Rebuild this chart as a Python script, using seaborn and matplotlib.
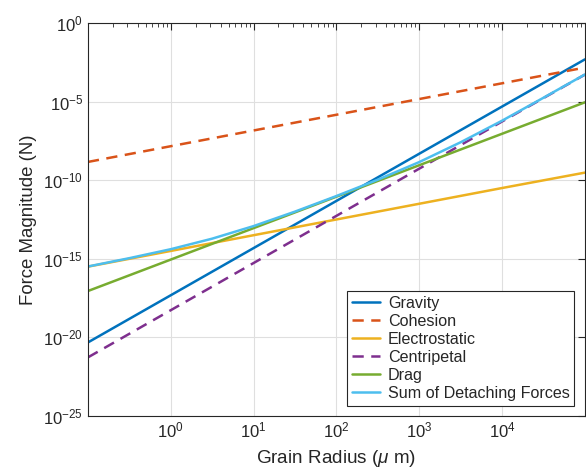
import numpy as np
import pandas as pd
import matplotlib
matplotlib.use("Agg")
import matplotlib.pyplot as plt
import seaborn as sns
from matplotlib.ticker import FixedLocator, LogLocator, NullFormatter

# ---- data (log10 values) ----
radius_exp = [-1, 0, 1, 2, 3, 4, 5]                 # grain radius, log10(um)
gravity_log = [-20.32, -17.32, -14.32, -11.32, -8.32, -5.32, -2.32]
cohesion_log = [-8.84, -7.84, -6.84, -5.84, -4.84, -3.84, -2.84]
electro_log = [-15.50, -14.50, -13.50, -12.50, -11.50, -10.50, -9.52]
centrip_log = [-21.27, -18.27, -15.27, -12.27, -9.27, -6.27, -3.29]
drag_log = [-17.05, -15.05, -13.05, -11.05, -9.05, -7.05, -5.05]

sum_radius_exp = [-1, -0.5, 0, 0.5, 1, 1.5, 2, 2.5, 3, 3.5, 4, 4.5, 5]
sum_log = [-15.49, -14.96, -14.39, -13.72, -12.92, -12.00, -11.01,
           -9.97, -8.85, -7.59, -6.22, -4.76, -3.28]

series_names = ["Gravity", "Cohesion", "Electrostatic", "Centripetal", "Drag",
                "Sum of Detaching Forces"]
colors = ["#0072BD", "#D95319", "#EDB120", "#7E2F8E", "#77AC30", "#4DBEEE"]
dashed = [False, True, False, True, False, False]

x_tick_exps = [0, 1, 2, 3, 4]
y_tick_exps = [0, -5, -10, -15, -20, -25]

sns.set_theme(style="white")
plt.rcParams['font.family'] = ['Liberation Sans', 'DejaVu Sans']
plt.rcParams['mathtext.fontset'] = 'custom'
plt.rcParams['mathtext.rm'] = 'Liberation Sans'
plt.rcParams['mathtext.it'] = 'Liberation Sans:italic'

fig = plt.figure(figsize=(5.86, 4.68), dpi=100)
ax = fig.add_axes([0.150, 0.111, 0.848, 0.840])

xs_list = [radius_exp] * 5 + [sum_radius_exp]
ys_list = [gravity_log, cohesion_log, electro_log, centrip_log, drag_log, sum_log]
for name, xe, ye, c, d in zip(series_names, xs_list, ys_list, colors, dashed):
    df = pd.DataFrame({"r": np.power(10.0, xe), "F": np.power(10.0, ye)})
    sns.lineplot(data=df, x="r", y="F", ax=ax, color=c, lw=1.8,
                 linestyle=(0, (4.5, 3.0)) if d else "-", label=name)

ax.set_xscale("log")
ax.set_yscale("log")
ax.set_xlim(1e-1, 1e5)
ax.set_ylim(1e-25, 1e0)

ax.xaxis.set_major_locator(FixedLocator([10.0 ** e for e in x_tick_exps]))
ax.set_xticklabels([f"$\\mathregular{{10^{{{e}}}}}$" for e in x_tick_exps])
ax.xaxis.set_minor_locator(LogLocator(base=10, subs=np.arange(2, 10), numticks=100))
ax.xaxis.set_minor_formatter(NullFormatter())
ax.yaxis.set_major_locator(FixedLocator([10.0 ** e for e in y_tick_exps]))
ax.set_yticklabels([f"$\\mathregular{{10^{{{e}}}}}$" for e in y_tick_exps])
ax.yaxis.set_minor_locator(FixedLocator([]))

ax.tick_params(which="both", direction="in", top=True, right=True,
               colors="#262626", labelsize=12, labelcolor="#262626")
ax.tick_params(which="major", length=5, width=0.8)
ax.tick_params(which="minor", length=3, width=0.6)
ax.grid(True, which="major", color="#DFDFDF", lw=0.8)
ax.set_axisbelow(True)
for s in ax.spines.values():
    s.set_color("#262626")
    s.set_linewidth(0.8)

ax.set_xlabel("Grain Radius ($\\mu$ m)", fontsize=13.6, color="#262626", labelpad=5)
ax.set_ylabel("Force Magnitude (N)", fontsize=13.4, color="#262626", labelpad=4)

leg = ax.legend(loc="lower right", fontsize=11.6, frameon=True, fancybox=False,
                edgecolor="#262626", framealpha=1, handlelength=1.75,
                handletextpad=0.5, labelspacing=0.19, borderpad=0.28,
                borderaxespad=0.65)
leg.get_frame().set_linewidth(0.8)

fig.savefig("out.png", dpi=100)
